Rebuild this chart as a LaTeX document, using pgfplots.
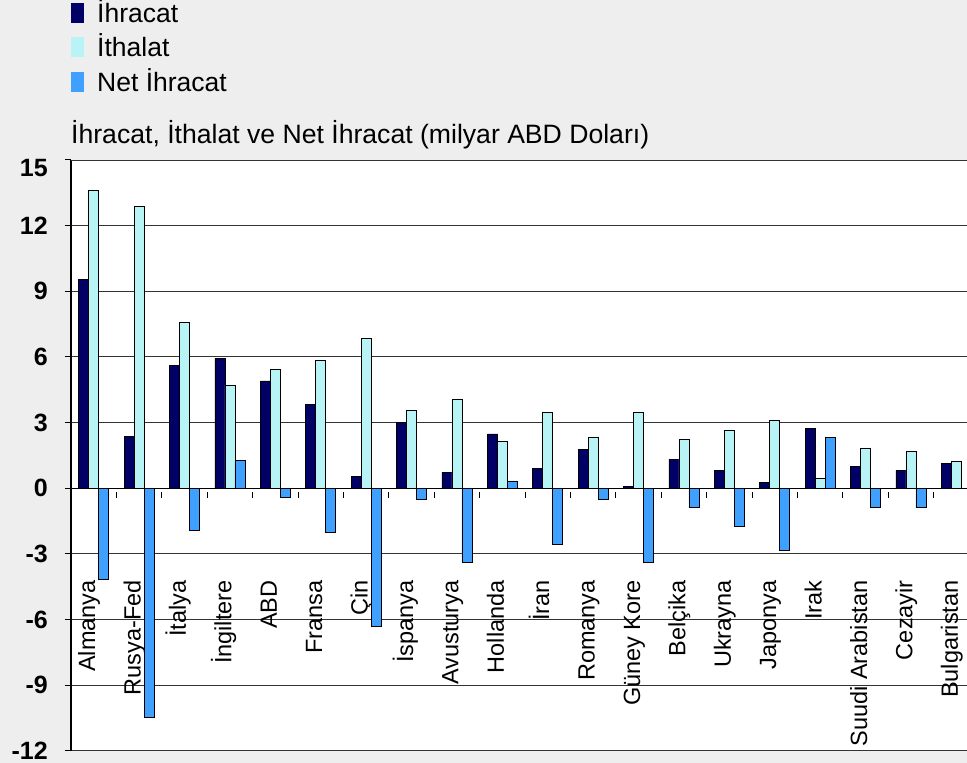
\documentclass[border=0pt]{standalone}
\usepackage{fontspec}
\setmainfont{Liberation Sans}
\usepackage{pgfplots}
\pgfplotsset{compat=1.18}
\usepackage{pgfplotstable}

\definecolor{panelgray}{HTML}{EEEEEE}
\definecolor{exportblue}{HTML}{000066}
\definecolor{importcyan}{HTML}{B8F3F5}
\definecolor{netblue}{HTML}{40A0FF}

% exports, imports and net exports, billion USD
\pgfplotstableread{
idx ihracat ithalat net
0  9.52 13.59  -4.19
1  2.36 12.89 -10.48
2  5.61  7.56  -1.95
3  5.94  4.71   1.25
4  4.90  5.42  -0.43
5  3.81  5.85  -2.04
6  0.52  6.84  -6.34
7  3.00  3.56  -0.52
8  0.72  4.08  -3.38
9  2.48  2.13   0.33
10 0.90  3.46  -2.57
11 1.75  2.32  -0.53
12 0.09  3.46  -3.38
13 1.33  2.22  -0.90
14 0.81  2.65  -1.75
15 0.27  3.08  -2.86
16 2.74  0.43   2.32
17 0.99  1.84  -0.90
18 0.81  1.66  -0.88
19 1.13  1.23   0.00
}\tradedata

\begin{document}
\begin{tikzpicture}
\fill[panelgray] (-71pt,-12.3pt) rectangle (896pt,750.7pt);
\begin{axis}[
  at={(0pt,0pt)}, anchor=south west,
  scale only axis, width=908pt, height=590.7pt,
  xmin=-0.5, xmax=19.5, ymin=-12, ymax=15,
  axis background/.style={fill=white},
  axis y line=left, axis x line=middle,
  axis line style={-, black, line width=1.2pt},
  tick align=center,
  ytick={-12,-9,...,12},
  extra y ticks={15},
  extra y tick style={yticklabel style={yshift=-8pt}},
  major tick length=6pt,
  ytick style={black, line width=1pt, xshift=-3pt},
  xtick style={black, line width=1pt, yshift=-3.5pt},
  ymajorgrids, major grid style={black!80, line width=0.9pt},
  /pgf/number format/assume math mode=true,
  yticklabel style={font=\fontsize{25}{25}\selectfont\bfseries, inner sep=0pt, anchor=east, xshift=-20pt},
  x tick label as interval,
  xtick={-0.499,0.5,1.5,...,19.5},
  xticklabels={Almanya,Rusya-Fed,İtalya,İngiltere,ABD,Fransa,Çin,İspanya,Avusturya,Hollanda,İran,Romanya,Güney Kore,Belçika,Ukrayna,Japonya,Irak,Suudi Arabistan,Cezayir,Bulgaristan},
  xticklabel style={xshift=1.5pt, yshift=-86pt, rotate=90, anchor=base east, inner sep=0pt, font=\fontsize{23.5}{24}\selectfont},
  ybar=0pt, bar width=10pt,
  title={İhracat, İthalat ve Net İhracat (milyar ABD Doları)},
  title style={at={(0,1)}, anchor=base west, yshift=10pt, inner sep=0pt, font=\fontsize{26.6}{30}\selectfont},
  legend cell align=left,
  % swatch drawn as overlay so the cell keeps a fixed size
  legend image code/.code={%
    \path[draw=none, fill=none] (0pt,-7pt) rectangle (13pt,13pt);
    \fill[#1, draw=none, overlay] (0pt,-11.5pt) rectangle (13pt,8.5pt);},
  legend style={at={(0,1)}, anchor=north west, yshift=161.9pt, draw=none, fill=none,
    inner sep=0pt, column sep=13pt, row sep=9.3pt,
    font=\fontsize{26.5}{30}\selectfont,
    nodes={inner sep=0pt}},
]
\addplot[fill=exportblue, draw=black, line width=0.8pt] table[x=idx, y=ihracat] {\tradedata};
\addplot[fill=importcyan, draw=black, line width=0.8pt] table[x=idx, y=ithalat] {\tradedata};
\addplot[fill=netblue, draw=black, line width=0.8pt] table[x=idx, y=net] {\tradedata};
\legend{İhracat, İthalat, Net İhracat}
\end{axis}
\pgfresetboundingbox
\path[use as bounding box] (-71pt,-12.3pt) rectangle (896pt,750.7pt);
\end{tikzpicture}
\end{document}
